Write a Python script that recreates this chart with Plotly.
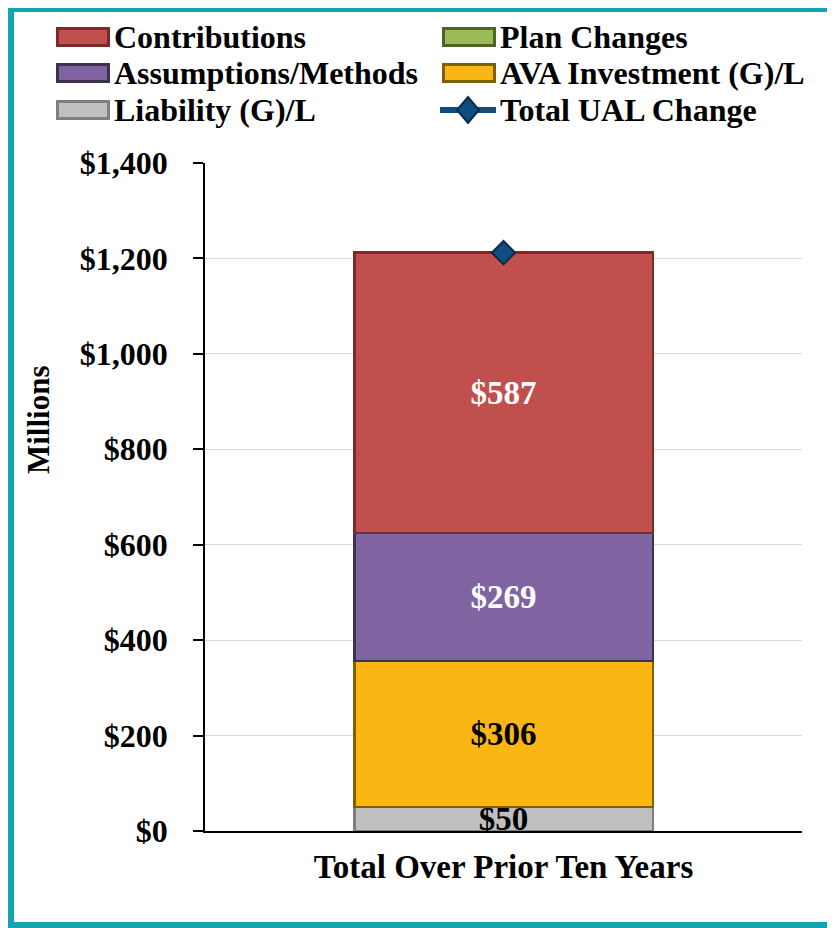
import plotly.graph_objects as go

category = ["Total Over Prior Ten Years"]
series_names = ["Liability (G)/L", "AVA Investment (G)/L", "Assumptions/Methods", "Plan Changes", "Contributions"]
liability = [50]
ava_investment = [306]
assumptions = [269]
plan_changes = [0]
contributions = [587]
total_ual_change = [1212]
y_ticks = [0, 200, 400, 600, 800, 1000, 1200, 1400]
y_tick_labels = ["$0", "$200", "$400", "$600", "$800", "$1,000", "$1,200", "$1,400"]

FONT = "Liberation Serif"
OFF = 8  # page body margin
W, H = 835 - OFF, 928 - OFF
L, R, T, B = 205 - OFF, 802 - OFF, 163 - OFF, 831 - OFF

def px(x):
    # x given in screenshot pixels
    return (x - OFF - L) / (R - L)

def py(y):
    return (B - (y - OFF)) / (B - T)

series = [
    (series_names[0], liability, "#BFBFBF", "#7F7F7F", "black", True),
    (series_names[1], ava_investment, "#FBB614", "#7F6000", "black", True),
    (series_names[2], assumptions, "#8064A2", "#3F3151", "white", True),
    (series_names[3], plan_changes, "#9BBB59", "#4F6228", "black", False),
    (series_names[4], contributions, "#C0504D", "#7B2A28", "white", True),
]

fig = go.Figure()
for name, vals, fill, edge, tcol, show in series:
    fig.add_trace(go.Bar(
        x=category, y=vals, name=name,
        marker=dict(color=fill, line=dict(color=edge, width=2.5)),
        text=["$" + format(v, ",") for v in vals] if show else None,
        textposition="inside", insidetextanchor="middle", constraintext="none",
        textfont=dict(family=FONT, size=33, color=tcol, weight="bold"),
        showlegend=False, hoverinfo="skip",
    ))

fig.add_trace(go.Scatter(
    x=category, y=total_ual_change, mode="markers", name="Total UAL Change",
    marker=dict(symbol="diamond", size=18, color="#0F4C81", line=dict(color="#0A2B45", width=2)),
    showlegend=False,
))

shapes = []
annotations = []

# legend (manual, two columns) -- positions in screenshot pixels
legend_items = [
    ("Contributions", "#C0504D", "#7B2A28", 56, 37, "box"),
    ("Plan Changes", "#9BBB59", "#4F6228", 442, 37, "box"),
    ("Assumptions/Methods", "#8064A2", "#3F3151", 56, 73, "box"),
    ("AVA Investment (G)/L", "#FBB614", "#7F6000", 442, 73, "box"),
    ("Liability (G)/L", "#BFBFBF", "#7F7F7F", 56, 110, "box"),
    ("Total UAL Change", "#0F4C81", "#0A2B45", 442, 110, "line"),
]
for label, fill, edge, x0, yc, kind in legend_items:
    if kind == "box":
        shapes.append(dict(type="rect", xref="paper", yref="paper",
                           x0=px(x0 + 1.5), x1=px(x0 + 52.5), y0=py(yc + 8.5), y1=py(yc - 8.5),
                           fillcolor=fill, line=dict(color=edge, width=3)))
    else:
        shapes.append(dict(type="line", xref="paper", yref="paper",
                           x0=px(x0 - 2), x1=px(x0 + 54), y0=py(yc), y1=py(yc),
                           line=dict(color="#0F4C81", width=6)))
        cx = x0 + 26
        dx, dy = 11, 13
        path = "M {a} {b} L {c} {e} L {f} {g} L {h} {i} Z".format(
            a=px(cx - dx), b=py(yc), c=px(cx), e=py(yc - dy), f=px(cx + dx), g=py(yc), h=px(cx), i=py(yc + dy))
        shapes.append(dict(type="path", xref="paper", yref="paper", path=path,
                           fillcolor=fill, line=dict(color=edge, width=2)))
    annotations.append(dict(text=label, xref="paper", yref="paper", x=px(x0 + 56), y=py(yc),
                            xanchor="left", yanchor="middle", showarrow=False,
                            font=dict(family=FONT, size=32, color="black", weight="bold")))

# y axis title
annotations.append(dict(text="Millions", xref="paper", yref="paper", x=px(38), y=py(420),
                        textangle=-90, xanchor="center", yanchor="middle", showarrow=False,
                        font=dict(family=FONT, size=31, color="black", weight="bold")))

# teal frame (left, top, bottom sides)
TEAL = "#13A4B4"
for (xa, ya, xb, yb) in [(11, 8, 11, 928), (8, 9, 835, 9), (8, 925, 835, 925)]:
    shapes.append(dict(type="line", xref="paper", yref="paper",
                       x0=px(xa), y0=py(ya), x1=px(xb), y1=py(yb),
                       line=dict(color=TEAL, width=6), layer="below"))

fig.update_layout(
    width=W, height=H,
    margin=dict(l=L, r=W - R, t=T, b=H - B, autoexpand=False),
    barmode="stack", bargap=0.5,
    plot_bgcolor="white", paper_bgcolor="white",
    showlegend=False,
    shapes=shapes, annotations=annotations,
    font=dict(family=FONT, color="black"),
)
fig.update_yaxes(
    range=[0, 1400], tickvals=y_ticks, ticktext=y_tick_labels,
    showgrid=True, gridcolor="#D9D9D9", gridwidth=1,
    showline=True, linecolor="black", linewidth=1.5,
    ticks="outside", ticklen=10, tickcolor="black", tickwidth=1.5,
    ticklabelstandoff=19,
    tickfont=dict(family=FONT, size=32, color="black", weight="bold"),
    zeroline=False,
)
fig.update_xaxes(
    showline=True, linecolor="black", linewidth=1.5,
    ticks="", ticklabelstandoff=6,
    tickfont=dict(family=FONT, size=33, color="black", weight="bold"),
)

fig.write_html("out.html")
